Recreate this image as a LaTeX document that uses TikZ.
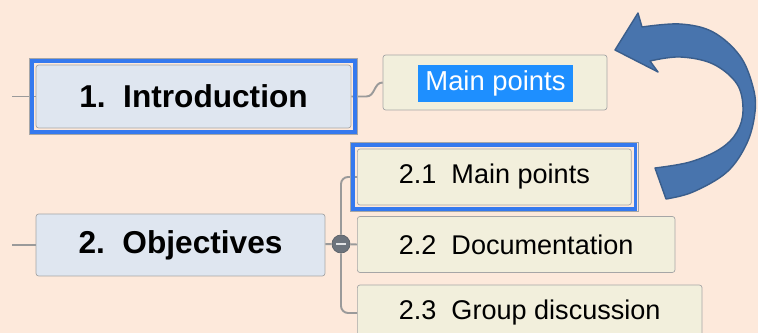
\documentclass[tikz,border=0pt]{standalone}
\usepackage{fontspec}
\setsansfont{Liberation Sans}
\usepackage{tikz}
\usetikzlibrary{arrows.meta, positioning, calc}
\usepackage{xcolor}
\definecolor{pagebg}{HTML}{FDE9DB}
\definecolor{topicfill}{HTML}{DFE6F0}
\definecolor{subfill}{HTML}{F2EFDC}
\definecolor{boxedge}{HTML}{A6A6A6}
\definecolor{linegray}{HTML}{9A9A9A}
\definecolor{selblue}{HTML}{3579EE}
\definecolor{hlblue}{HTML}{1E8FFF}
\definecolor{knobgray}{HTML}{6C737C}
\definecolor{bigarrow}{HTML}{4874AD}
\definecolor{bigarrowedge}{HTML}{3A5E8C}

\begin{document}
\begin{tikzpicture}[
  x=0.02cm, y=-0.02cm,
  topic/.style={draw=boxedge, fill=topicfill, rounded corners=1.5pt,
    font=\sffamily\bfseries\fontsize{18}{22}\selectfont},
  subtopic/.style={draw=boxedge, fill=subfill, rounded corners=1.5pt,
    minimum height=1.12cm, inner xsep=0.83cm, anchor=west,
    font=\sffamily\fontsize{15.4}{18}\selectfont},
  hlbox/.style={fill=hlblue, text=white, inner sep=0pt, minimum width=3.1cm,
    minimum height=0.74cm, font=\sffamily\fontsize{15.6}{18}\selectfont},
  conn/.style={draw=linegray, line width=1.1pt},
  selframe/.style={draw=selblue, line width=2pt},
  selrim/.style={draw=boxedge, line width=0.5pt}
]
  \frenchspacing
  \path[use as bounding box] (0,0) rectangle (758,333);
  \fill[pagebg] (0,0) rectangle (758,333);
  \clip (0,0) rectangle (758,333);

  % Topic 1: Introduction
  \node[topic, minimum width=6.3cm, minimum height=1.26cm] (intro)
    at (193.5,96.5) {1.\ \ Introduction};
  \node[subtopic, anchor=center, inner xsep=0pt, minimum width=4.48cm,
    minimum height=1.1cm] (intro-mp) at (495,82.5) {};
  \node[hlbox] (intro-mp-hl) at (495.5,83.5) {Main points};

  % Topic 2: Objectives
  \node[topic, minimum width=5.78cm, minimum height=1.24cm] (obj)
    at (180.5,245) {2.\ \ Objectives};
  \node[circle, fill=knobgray, draw=knobgray!85!black, minimum size=0.36cm,
    inner sep=0pt] (knob) at (341,244) {};
  \node[subtopic] (obj-a) at (357,177) {2.1\ \ Main points};
  \node[subtopic] (obj-b) at (357,244.5) {2.2\ \ Documentation};
  \node[subtopic] (obj-c) at (357,313) {2.3\ \ Group discussion};

  % Connectors
  \coordinate (intro-in) at (12,96.5);
  \coordinate (obj-in) at (12,245);
  \draw[conn] (intro-in) -- (intro);
  \draw[conn] (obj-in) -- (obj);
  \draw[conn] (intro.east) -- ++(15,0)
    .. controls +(9,0) and +(-9,0) .. (intro-mp.west);
  \draw[conn] (obj) -- (knob);
  \draw[conn, rounded corners=4pt] (knob.north) |- (obj-a.west);
  \draw[conn] (knob) -- (obj-b.west);
  \draw[conn, rounded corners=4pt] (knob.south) |- (obj-c.west);
  \draw[white!80!knobgray, line width=1pt]
    ([xshift=-2.8pt]knob.center) -- ([xshift=2.8pt]knob.center);

  % Selection frames
  \draw[selrim] ([shift={(-3.7pt,3.7pt)}]intro.north west)
    rectangle ([shift={(3.7pt,-3.7pt)}]intro.south east);
  \draw[selframe] ([shift={(-2.2pt,2.2pt)}]intro.north west)
    rectangle ([shift={(2.2pt,-2.2pt)}]intro.south east);
  \draw[selrim] ([shift={(-3.7pt,3.7pt)}]obj-a.north west)
    rectangle ([shift={(3.7pt,-3.7pt)}]obj-a.south east);
  \draw[selframe] ([shift={(-2.2pt,2.2pt)}]obj-a.north west)
    rectangle ([shift={(2.2pt,-2.2pt)}]obj-a.south east);

  % Curved block arrow
  \filldraw[fill=bigarrow, draw=bigarrowedge, line width=0.8pt, line join=round]
    (615,50) -- (638,13)
    -- plot[smooth, tension=0.6] coordinates {(642,27) (680,24) (713,32)
      (740,56) (753,87) (755,112) (747,143) (727,172) (693,192) (666,199)}
    -- plot[smooth, tension=0.6] coordinates {(655,168) (690,162) (720,149)
      (737,132) (743,110) (737,84) (713,64) (680,57) (650,61)}
    -- (658,72) -- cycle;
\end{tikzpicture}
\end{document}
